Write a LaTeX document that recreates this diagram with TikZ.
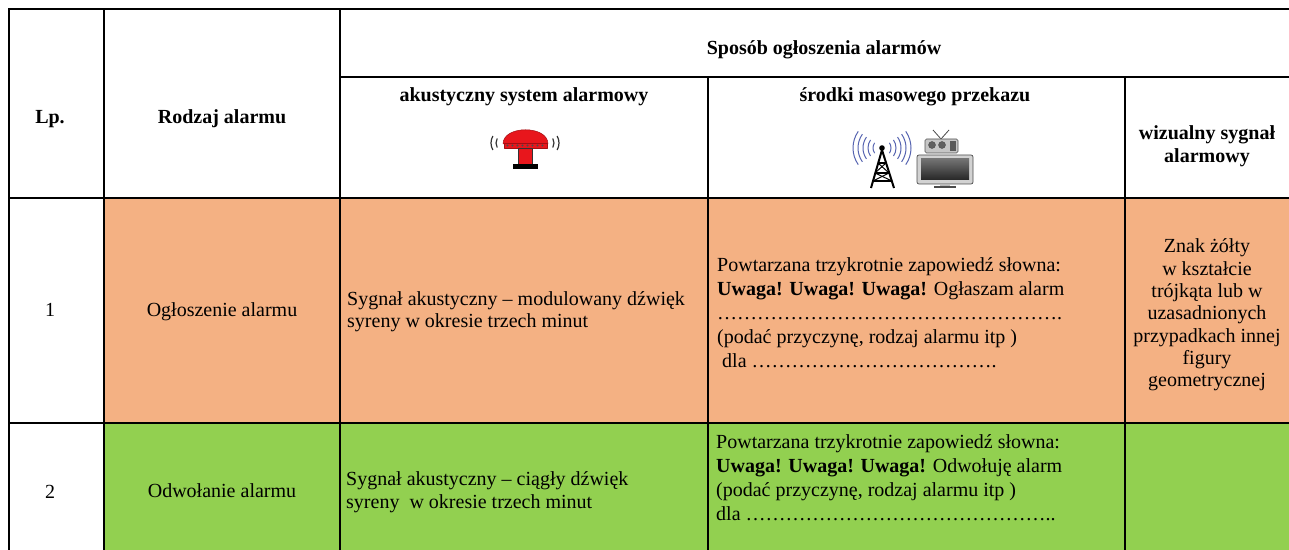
\documentclass[tikz,border=0pt]{standalone}
\usepackage{fontspec}
\setmainfont{Liberation Serif}
\usepackage{array}
\definecolor{rowA}{HTML}{F4B183}
\definecolor{rowB}{HTML}{92D050}
\definecolor{sirenred}{HTML}{E8161C}
\definecolor{wave}{HTML}{5563B0}
\newcommand\celltext[3]{{\fontsize{20bp}{#2}\selectfont\begin{tabular}[t]{@{}#1@{}}#3\end{tabular}}}
\newcount\ellcnt
\newcommand\ellrun[1]{{\ellcnt=0 \loop\ifnum\ellcnt<#1 …\advance\ellcnt by 1 \repeat}}
\begin{document}
\begin{tikzpicture}[x=1bp,y=-1bp,
  grid/.style={line width=1.8bp, black, line cap=rect},
  txt/.style={inner sep=0pt, font=\fontsize{20bp}{24bp}\selectfont},
  hdr/.style={txt, font=\fontsize{20bp}{24bp}\selectfont\bfseries}]
\useasboundingbox (0,0) rectangle (1289,550);
% cell fills
\fill[rowA] (104,198) rectangle (1289,423);
\fill[rowB] (104,423) rectangle (1289,550);
% grid
\draw[grid] (9,9) -- (1289,9);
\draw[grid] (9,9) -- (9,550);
\draw[grid] (104,9) -- (104,550);
\draw[grid] (340,9) -- (340,550);
\draw[grid] (340,77) -- (1289,77);
\draw[grid] (708,77) -- (708,550);
\draw[grid] (1125,77) -- (1125,550);
\draw[grid] (9,198) -- (1289,198);
\draw[grid] (9,423) -- (1289,423);
% header texts
\node[hdr, anchor=base] (lp) at (50,124) {Lp.};
\node[hdr, anchor=base] (rodzaj) at (222,124) {Rodzaj alarmu};
\node[hdr, anchor=base] (sposob) at (824,55) {Sposób ogłoszenia alarmów};
\node[hdr, anchor=base] (akust) at (524,102) {akustyczny system alarmowy};
\node[hdr, anchor=base] (srodki) at (915,102) {środki masowego przekazu};
\node[txt, anchor=base] (wiz) at (1207,140) {\celltext{c}{22.5bp}{\textbf{wizualny sygnał}\\\textbf{alarmowy}}};
% siren icon
\begin{scope}[line join=round]
  \foreach \r in {9,14} {
    \draw[black!80, line width=1.2bp] (505,143) ++(150:\r) arc[start angle=150, end angle=210, radius=\r];
    \draw[black!80, line width=1.2bp] (545,143) ++(-30:\r) arc[start angle=-30, end angle=30, radius=\r];
  }
  \filldraw[fill=sirenred, draw=sirenred!70!black, line width=0.5bp] (503,144) .. controls (503,125) and (548,125) .. (548,144) -- cycle;
  \filldraw[fill=sirenred, draw=sirenred!70!black, line width=0.5bp] (504,143) rectangle (547,148);
  \foreach \i in {0,...,7} \fill[black!70] (507.5+\i*5,145.5) circle[radius=1.1];
  \filldraw[fill=sirenred, draw=black!80, line width=0.6bp] (518,148) rectangle (532,165);
  \fill[black] (513,164.5) rectangle (538,169);
\end{scope}
% tower icon
\begin{scope}[line join=round]
  \foreach \r in {9,14,19,24,29} {
    \draw[wave, line width=1bp] (882,148) ++(145:\r) arc[start angle=145, end angle=215, radius=\r];
    \draw[wave, line width=1bp] (882,148) ++(-35:\r) arc[start angle=-35, end angle=35, radius=\r];
  }
  \draw[black, line width=2bp] (871,188) -- (882,150) -- (894,188);
  \draw[black, line width=1.5bp] (878,163) -- (886,163);
  \draw[black, line width=1.5bp] (875,173) -- (889,173);
  \draw[black, line width=1.5bp] (873,181) -- (892,181);
  \draw[black, line width=1bp] (878,163) -- (889,173) -- (873,181);
  \draw[black, line width=1bp] (886,163) -- (875,173) -- (892,181);
  \fill[black] (882,148) circle[radius=2.8];
\end{scope}
% radio icon
\begin{scope}[line join=round]
  \draw[gray!60!black, line width=0.8bp] (933,130) -- (941,139) -- (949,130);
  \filldraw[fill=gray!45, draw=gray!65!black, line width=0.6bp, rounded corners=1.5bp] (925,139) rectangle (958,153);
  \filldraw[fill=gray!75!black, draw=black!70, line width=0.4bp] (932,145) circle[radius=3.5];
  \filldraw[fill=gray!75!black, draw=black!70, line width=0.4bp] (942,145) circle[radius=3.5];
  \fill[gray!70!black] (950,141) rectangle (956,151);
\end{scope}
% tv icon
\begin{scope}[line join=round]
  \filldraw[fill=gray!35, draw=gray!60!black, line width=0.7bp, rounded corners=2bp] (917,155) rectangle (973,184);
  \shade[top color=black!55, bottom color=black!85] (921,159) rectangle (969,180);
  \fill[gray!55] (940,184) rectangle (950,187);
  \fill[gray!60!black] (934,186.5) rectangle (956,188.5);
\end{scope}
% row 1
\node[txt, anchor=base] (n1) at (50,317) {1};
\node[txt, anchor=base] (r1) at (222,317) {Ogłoszenie alarmu};
\node[txt, anchor=base west] (s1) at (347,306) {\celltext{l}{22bp}{Sygnał akustyczny – modulowany dźwięk\\syreny w okresie trzech minut}};
\node[txt, anchor=base west] (m1) at (717,272) {\celltext{l}{24bp}{Powtarzana trzykrotnie zapowiedź słowna:\\\textbf{Uwaga! Uwaga! Uwaga!} Ogłaszam alarm\\\ellrun{17}.\\(podać przyczynę, rodzaj alarmu itp )\\\hspace{5bp}dla \ellrun{12}.}};
\node[txt, anchor=base] (w1) at (1207,253) {\celltext{c}{22.3bp}{Znak żółty\\w kształcie\\trójkąta lub w\\uzasadnionych\\przypadkach innej\\figury\\geometrycznej}};
% row 2
\node[txt, anchor=base] (n2) at (50,498) {2};
\node[txt, anchor=base] (r2) at (222,497) {Odwołanie alarmu};
\node[txt, anchor=base west] (s2) at (346,485) {\celltext{l}{23bp}{Sygnał akustyczny – ciągły dźwięk\\syreny\ \ w okresie trzech minut}};
\node[txt, anchor=base west] (m2) at (716,448) {\celltext{l}{24bp}{Powtarzana trzykrotnie zapowiedź słowna:\\\textbf{Uwaga! Uwaga! Uwaga!} Odwołuję alarm\\(podać przyczynę, rodzaj alarmu itp )\\dla \ellrun{15}..}};
\end{tikzpicture}
\end{document}
